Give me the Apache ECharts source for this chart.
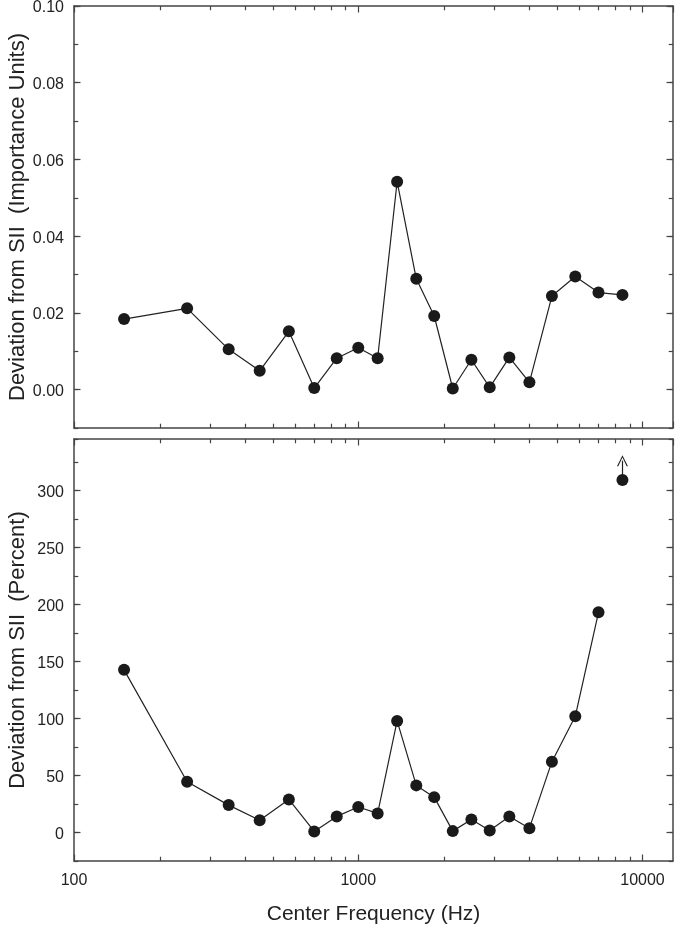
<!DOCTYPE html>
<html>
<head>
<meta charset="utf-8">
<script src="https://cdn.jsdelivr.net/npm/echarts@6/dist/echarts.min.js"></script>
<style>
  html, body { margin: 0; padding: 0; background: #fff; }
  #chart { width: 676px; height: 925px; }
</style>
</head>
<body>
<div id="chart"></div>
<script>
// SII critical-band centre frequencies (Hz)
const freqs = [150, 250, 350, 450, 570, 700, 840, 1000, 1170, 1370, 1600, 1850, 2150, 2500, 2900, 3400, 4000, 4800, 5800, 7000, 8500]

// top panel: deviation in importance units
const devImportance = [0.0184, 0.0212, 0.0105, 0.0049, 0.0152, 0.0004, 0.0082, 0.0109, 0.0082, 0.0542, 0.0289,
  0.0192, 0.0003, 0.0078, 0.0006, 0.0084, 0.0019, 0.0244, 0.0295, 0.0253, 0.0247]

// bottom panel: deviation in percent (line stops at 7000 Hz)
const devPercent = [142.6, 44.5, 24.0, 10.8, 29.0, 0.9, 14.1, 22.3, 16.7, 97.8, 41.3,
  31.0, 1.2, 11.4, 1.8, 14.1, 3.8, 62.1, 101.9, 193.0]
// 8500 Hz point, drawn on its own with an upward arrow
const offScalePoint = [8500, 309]
const offScaleArrowTip = 326

const xMajorTicks = [100, 1000, 10000]
const xMinorTicks = [200, 300, 400, 500, 600, 700, 800, 900, 2000, 3000, 4000, 5000, 6000, 7000, 8000, 9000]
const importanceTicks = [0, 0.02, 0.04, 0.06, 0.08, 0.10]
const percentTicks = [0, 50, 100, 150, 200, 250, 300]

const FONT = '"Liberation Sans", Arial, Helvetica, sans-serif'
const AXIS_COLOR = '#444'
const TEXT_COLOR = '#222'
const MARK_COLOR = '#1a1a1a'
const MAJOR_LEN = 6.5
const MINOR_LEN = 4.3

const X_MIN = 100
const X_MAX = 12800
const Y_RANGES = [
  { min: -0.01, max: 0.10, minor: 0.01, majors: importanceTicks, fmt: v => v.toFixed(2), name: 'Deviation from SII  (Importance Units)' },
  { min: -25, max: 345, minor: 25, majors: percentTicks, fmt: v => String(v), name: 'Deviation from SII  (Percent)' },
]

const chart = echarts.init(document.getElementById('chart'), null, { renderer: 'canvas' })

// x axes: bottom + top edge for each grid
const buildXAxes = () => {
  const axes = []
  ;[0, 1].forEach(g => {
    ;['bottom', 'top'].forEach(pos => {
      const withLabels = g === 1 && pos === 'bottom'
      axes.push({
        type: 'log',
        logBase: 10,
        gridIndex: g,
        position: pos,
        min: X_MIN,
        max: X_MAX,
        splitLine: { show: false },
        axisLine: { show: true, onZero: false, lineStyle: { color: AXIS_COLOR, width: 1.5 } },
        axisTick: { show: true, inside: true, length: MAJOR_LEN, lineStyle: { color: AXIS_COLOR, width: 1.2 } },
        axisLabel: {
          show: withLabels,
          showMaxLabel: false,
          margin: 12,
          color: TEXT_COLOR,
          fontFamily: FONT,
          fontSize: 16,
          formatter: v => (xMajorTicks.includes(Math.round(v)) ? String(Math.round(v)) : ''),
        },
        name: withLabels ? 'Center Frequency (Hz)' : '',
        nameLocation: 'middle',
        nameGap: 43,
        nameMoveOverlap: false,
        nameTextStyle: { color: TEXT_COLOR, fontFamily: FONT, fontSize: 21 },
      })
    })
  })
  return axes
}

// y axes: major (custom ticks) + minor (interval) on left and right of each grid
const buildYAxes = () => {
  const axes = []
  Y_RANGES.forEach((r, g) => {
    ;['left', 'right'].forEach(pos => {
      const isLeft = pos === 'left'
      axes.push({
        type: 'value',
        gridIndex: g,
        position: pos,
        min: r.min,
        max: r.max,
        splitLine: { show: false },
        axisLine: { show: true, onZero: false, lineStyle: { color: AXIS_COLOR, width: 1.5 } },
        axisTick: { show: true, inside: true, length: MAJOR_LEN, customValues: r.majors, lineStyle: { color: AXIS_COLOR, width: 1.2 } },
        axisLabel: {
          show: isLeft,
          customValues: r.majors,
          margin: 10,
          verticalAlign: 'top',
          lineHeight: 4,
          color: TEXT_COLOR,
          fontFamily: FONT,
          fontSize: 16,
          formatter: r.fmt,
        },
        name: isLeft ? r.name : '',
        nameLocation: 'middle',
        nameGap: 45,
        nameMoveOverlap: false,
        nameTextStyle: { color: TEXT_COLOR, fontFamily: FONT, fontSize: 22 },
      })
      axes.push({
        type: 'value',
        gridIndex: g,
        position: pos,
        min: r.min,
        max: r.max,
        interval: r.minor,
        splitLine: { show: false },
        axisLine: { show: false, onZero: false },
        axisTick: { show: true, inside: true, length: MINOR_LEN, lineStyle: { color: AXIS_COLOR, width: 1.2 } },
        axisLabel: { show: false },
      })
    })
  })
  return axes
}

const lineSeries = (xIdx, yIdx, data) => ({
  type: 'line',
  xAxisIndex: xIdx,
  yAxisIndex: yIdx,
  data,
  symbol: 'circle',
  symbolSize: 12,
  itemStyle: { color: MARK_COLOR, opacity: 1 },
  lineStyle: { color: '#222', width: 1.2 },
  silent: true,
})

const option = {
  animation: false,
  backgroundColor: '#fff',
  grid: [
    { left: 74, top: 6, width: 599, height: 422, outerBoundsMode: 'none', containLabel: false },
    { left: 74, top: 439, width: 599, height: 422, outerBoundsMode: 'none', containLabel: false },
  ],
  xAxis: buildXAxes(),
  yAxis: buildYAxes(),
  series: [
    lineSeries(0, 0, freqs.map((f, i) => [f, devImportance[i]])),
    lineSeries(2, 4, devPercent.map((v, i) => [freqs[i], v])),
    {
      type: 'scatter',
      xAxisIndex: 2,
      yAxisIndex: 4,
      data: [offScalePoint],
      symbol: 'circle',
      symbolSize: 12,
      itemStyle: { color: MARK_COLOR, opacity: 1 },
      silent: true,
      z: 3,
      markLine: {
        silent: true,
        animation: false,
        z: 2,
        symbol: ['none', 'path://M5,0 L10,12 L8.8,12 L5,2.6 L1.2,12 L0,12 Z'],
        symbolSize: 11,
        label: { show: false },
        emphasis: { disabled: true },
        lineStyle: { color: '#222', width: 1.2, type: 'solid', opacity: 1 },
        itemStyle: { color: '#222' },
        data: [[{ coord: offScalePoint }, { coord: [offScalePoint[0], offScaleArrowTip] }]],
      },
    },
  ],
}

chart.setOption(option)

// minor log ticks on the x edges (placed through the axis scales)
const drawMinorXTicks = () => {
  const els = []
  ;[[0, 0, Y_RANGES[0]], [2, 4, Y_RANGES[1]]].forEach(([xi, yi, r]) => {
    const yBottom = chart.convertToPixel({ yAxisIndex: yi }, r.min)
    const yTop = chart.convertToPixel({ yAxisIndex: yi }, r.max)
    xMinorTicks.forEach(f => {
      const x = Math.round(chart.convertToPixel({ xAxisIndex: xi }, f)) + 0.5
      els.push({ type: 'line', silent: true, shape: { x1: x, y1: yBottom, x2: x, y2: yBottom - MINOR_LEN }, style: { stroke: AXIS_COLOR, lineWidth: 1.2 } })
      els.push({ type: 'line', silent: true, shape: { x1: x, y1: yTop, x2: x, y2: yTop + MINOR_LEN }, style: { stroke: AXIS_COLOR, lineWidth: 1.2 } })
    })
  })
  chart.setOption({ graphic: els })
}
drawMinorXTicks()
</script>
</body>
</html>
